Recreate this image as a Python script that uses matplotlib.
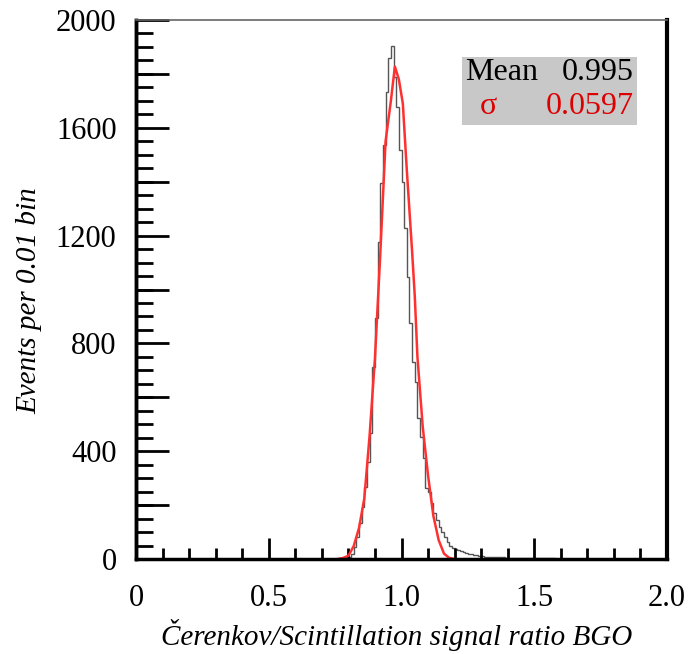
import numpy as np
import matplotlib
matplotlib.use("Agg")
import matplotlib.pyplot as plt
from matplotlib.ticker import MultipleLocator

# ---- data ----
bin_left = [0.75, 0.76, 0.77, 0.78, 0.79, 0.80, 0.81, 0.82, 0.83, 0.84,
            0.85, 0.86, 0.87, 0.88, 0.89, 0.90, 0.91, 0.92, 0.93, 0.94,
            0.95, 0.96, 0.97, 0.98, 0.99, 1.00, 1.01, 1.02, 1.03, 1.04,
            1.05, 1.06, 1.07, 1.08, 1.09, 1.10, 1.11, 1.12, 1.13, 1.14,
            1.15, 1.16, 1.17, 1.18, 1.19, 1.20, 1.21, 1.22, 1.23, 1.24,
            1.25, 1.26, 1.27, 1.28, 1.29, 1.30, 1.31, 1.32, 1.33, 1.34,
            1.35, 1.36, 1.37, 1.38, 1.39, 1.40, 1.42, 1.44, 1.46, 1.48,
            1.50, 1.52, 1.54, 1.56, 1.58, 1.60]
counts = [0, 1, 1, 2, 4, 9, 20, 46, 83, 133,
          194, 268, 361, 466, 713, 893, 1177, 1394, 1536, 1734,
          1858, 1905, 1790, 1678, 1518, 1400, 1228, 1047, 875, 732,
          658, 522, 454, 373, 262, 250, 208, 170, 145, 119,
          101, 83, 64, 50, 40, 36, 33, 28, 25, 22,
          19, 17, 15, 13, 12, 10, 9, 9, 8, 8,
          7, 7, 6, 6, 5, 5, 4, 4, 3, 3,
          3, 2, 2, 2, 1, 0]

fit_x = [0.76, 0.78, 0.80, 0.82, 0.84, 0.86, 0.88, 0.90, 0.92, 0.94,
         0.96, 0.975, 0.99, 1.005, 1.02, 1.04, 1.05, 1.06, 1.08, 1.10,
         1.12, 1.14, 1.16, 1.18, 1.20]
fit_y = [0, 4, 12, 48, 115, 225, 460, 745, 1130, 1550,
         1700, 1827, 1780, 1690, 1443, 1140, 975, 750, 490, 310,
         160, 70, 20, 4, 0]

x_ticks = [0, 0.5, 1.0, 1.5, 2.0]
x_tick_labels = ["0", "0.5", "1.0", "1.5", "2.0"]
y_ticks = [0, 400, 800, 1200, 1600, 2000]
y_tick_labels = ["0", "400", "800", "1200", "1600", "2000"]
y_long_ticks = [0, 200, 400, 600, 800, 1000, 1200, 1400, 1600, 1800, 2000]

stat_mean = "0.995"
stat_sigma = "0.0597"

# ---- figure ----
plt.rcParams['font.family'] = ['Liberation Serif', 'DejaVu Serif']
fig = plt.figure(figsize=(6.97, 6.54), dpi=100)
ax = fig.add_axes([136/697, 1 - 559/654, (667-136)/697, (559-20)/654])

edges = list(bin_left) + [bin_left[-1] + 0.01]
ax.stairs(counts, edges, color='#555555', linewidth=1.0, baseline=None)
ax.plot(fit_x, fit_y, color='#ff3030', linewidth=1.8)

ax.set_xlim(0, 2.0)
ax.set_ylim(0, 2000)

ax.set_xticks(x_ticks)
ax.set_xticklabels(x_tick_labels)
ax.set_yticks(y_ticks)
ax.set_yticklabels(y_tick_labels)
ax.xaxis.set_minor_locator(MultipleLocator(0.1))
ax.yaxis.set_minor_locator(MultipleLocator(50))

ax.tick_params(axis='both', which='both', direction='in', top=False, right=False,
               colors='black', labelsize=22)
ax.tick_params(axis='x', which='major', length=15, width=2, pad=18)
ax.tick_params(axis='x', which='minor', length=8, width=2)
ax.tick_params(axis='y', which='major', length=0, width=2, pad=14)
ax.tick_params(axis='y', which='minor', length=12, width=2)

# long y ticks every 200
ax2y = ax.secondary_yaxis('left')
ax2y.set_yticks(y_long_ticks)
ax2y.set_yticklabels([])
ax2y.tick_params(axis='y', direction='in', length=24, width=2)
ax2y.spines['left'].set_linewidth(2.5)

for s in ['left', 'bottom']:
    ax.spines[s].set_linewidth(2.5)
ax.spines['right'].set_linewidth(3)
ax.spines['top'].set_linewidth(1.2)
ax.spines['top'].set_color('#666666')

ax.set_xlabel('Čerenkov/Scintillation signal ratio BGO', fontsize=21, style='italic')
ax.xaxis.set_label_coords(0.49, -0.141)
ax.xaxis.label.set_va('center')
ax.set_ylabel('Events per 0.01 bin', fontsize=21, style='italic')
ax.yaxis.set_label_coords(-0.2, 0.48)
ax.yaxis.label.set_va('center')

# stats box
box = matplotlib.patches.Rectangle((462/697, 1 - 125/654), (637-462)/697, (125-57)/654,
                                   transform=fig.transFigure, facecolor='#c8c8c8',
                                   edgecolor='none', zorder=5)
fig.patches.append(box)
fig.text(465/697, 1 - 73/654, 'Mean', fontsize=23, color='black', va='center', ha='left', zorder=6)
fig.text(634/697, 1 - 73/654, stat_mean, fontsize=23, color='black', va='center', ha='right', zorder=6)
fig.text(480/697, 1 - 107/654, 'σ', fontsize=23, color='#dd0000', va='center', ha='left', zorder=6)
fig.text(634/697, 1 - 107/654, stat_sigma, fontsize=23, color='#dd0000', va='center', ha='right', zorder=6)

fig.savefig('out.png', dpi=100)
